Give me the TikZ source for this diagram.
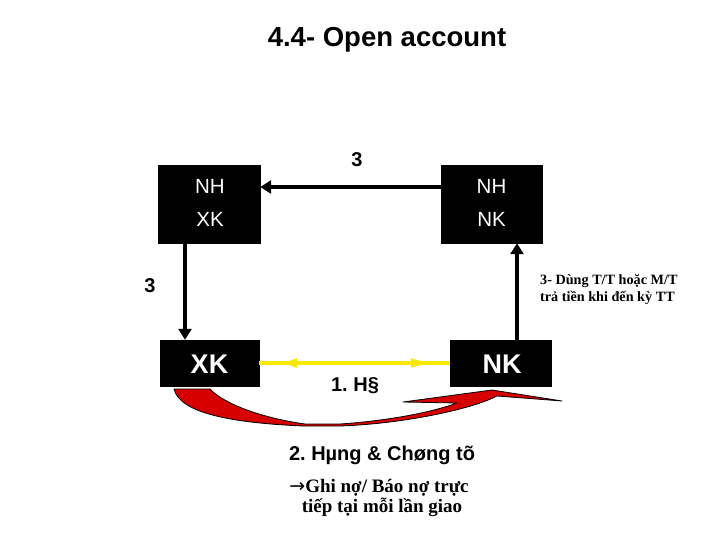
\documentclass[tikz,border=0pt]{standalone}
\usepackage{fontspec}
\setmainfont{Liberation Sans}
\newfontfamily\serifvn{Liberation Serif}
\newfontfamily\dejavu{DejaVu Sans}
\frenchspacing
\usetikzlibrary{arrows.meta,decorations.markings,calc}
\definecolor{ylw}{RGB}{250,232,0}
\definecolor{redarr}{RGB}{215,0,0}
\tikzset{
  blkbox/.style={fill=black,draw=black,inner sep=0pt},
  wtxt/.style={text=white,inner sep=0pt,font=\fontsize{20.5}{24}\selectfont},
  bigwtxt/.style={text=white,inner sep=0pt,font=\bfseries\fontsize{27}{30}\selectfont},
  thickarr/.style={line width=4.5pt,-{Triangle[length=11pt,width=13pt]}},
  lbl/.style={inner sep=0pt,font=\bfseries\fontsize{20}{24}\selectfont},
  note/.style={inner sep=0pt,align=left,font=\serifvn\bfseries\fontsize{14.2}{17}\selectfont},
}
\begin{document}
\frenchspacing
\begin{tikzpicture}[x=1pt,y=-1pt]
\useasboundingbox (0,0) rectangle (720,540);
% title
\node[inner sep=0pt,font=\bfseries\fontsize{27.5}{32}\selectfont] (title) at (387,40) {4.4- Open account};
% top boxes
\node[blkbox,minimum width=102pt,minimum height=78pt] (tl) at (209,204) {};
\node[blkbox,minimum width=101pt,minimum height=78pt] (tr) at (491.5,204) {};
\node[wtxt] (nh1) at (210,186) {NH};
\node[wtxt] (xk1) at (210,219) {XK};
\node[wtxt] (nh2) at (491.5,186) {NH};
\node[wtxt] (nk1) at (491.5,219) {NK};
% bottom boxes
\node[blkbox,minimum width=99pt,minimum height=46pt] (bl) at (209.5,363) {};
\node[blkbox,minimum width=101pt,minimum height=46pt] (br) at (500.5,363) {};
\node[bigwtxt] (xk2) at (209.5,364) {XK};
\node[bigwtxt] (nk2) at (502,364) {NK};
% arrows 3
\draw[thickarr] (tr.west |- 0,187) -- (tl.east |- 0,187);
\draw[thickarr] ([xshift=-24pt]tl.south) -- ([xshift=-24pt]tl.south |- bl.north);
\draw[thickarr] ([xshift=16.5pt]br.north) -- ([xshift=16.5pt]br.north |- tr.south);
\node[lbl] (l3a) at (357,160) {3};
\node[lbl] (l3b) at (150,286) {3};
\node[note,anchor=north west] (n3) at (540,274) {3- Dùng T/T hoặc M/T\\trả tiền khi đến kỳ TT};
% yellow double arrow
\draw[ylw,line width=3.5pt,postaction={decorate,decoration={markings,
  mark=at position 19pt with {\arrowreversed[ylw]{Latex[length=19pt,width=10pt]}},
  mark=at position -15pt with {\arrow[ylw]{Latex[length=24pt,width=10pt]}}}}]
  (bl.east) -- (br.west);
\node[lbl] (h1) at (355,386) {1. H§};
% red curved arrow
\draw[fill=redarr,draw=black,line width=0.8pt,line join=round]
  (174,389) -- (210,389)
  .. controls (224,404) and (262,418) .. (305,424)
  -- (340,424)
  .. controls (385,421) and (430,413) .. (457,403)
  -- (403,402) -- (492,390) -- (562,401) -- (497,396)
  .. controls (470,410) and (400,424) .. (340,426)
  -- (303,426)
  .. controls (235,423) and (180,414) .. cycle;
% bottom texts
\node[lbl] (hang) at (382,455) {2. Hµng \& Chøng tõ};
\node[inner sep=0pt,align=center,font=\serifvn\bfseries\fontsize{19}{19.5}\selectfont] (ghi) at (379,498) {{\dejavu\mdseries →}Ghi nợ/ Báo nợ trực\\\hspace*{6pt}tiếp tại mỗi lần giao};
\end{tikzpicture}
\end{document}
